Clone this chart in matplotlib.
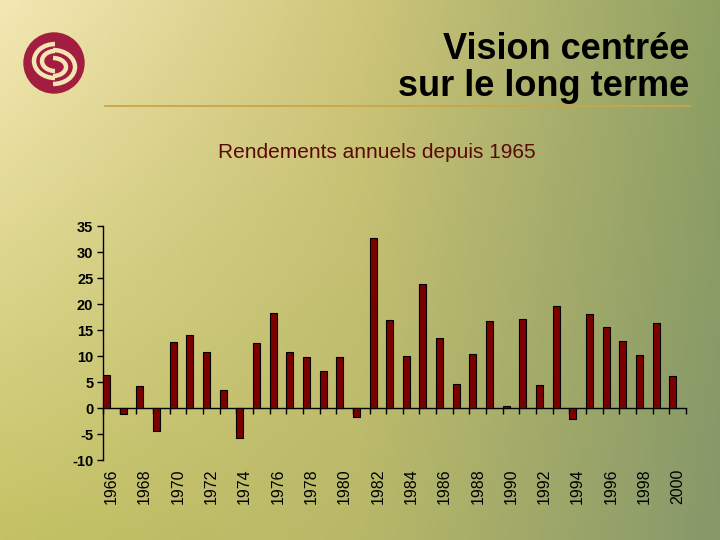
import numpy as np
import matplotlib
matplotlib.use('Agg')
import matplotlib.pyplot as plt
from matplotlib.patches import Ellipse, Arc
from matplotlib.colors import to_rgb

plt.rcParams['font.family'] = ['Liberation Sans', 'DejaVu Sans']

# annual returns (%)
years = list(range(1966, 2001))
returns = [6.4, -1.2, 4.3, -4.4, 12.7, 14.1, 10.8, 3.5, -5.7, 12.5,
           18.3, 10.8, 9.9, 7.2, 9.9, -1.8, 32.7, 17.0, 10.0, 23.9,
           13.5, 4.7, 10.4, 16.8, 0.45, 17.1, 4.5, 19.6, -2.2, 18.1,
           15.6, 12.9, 10.2, 16.4, 6.2]
label_years = [str(y) for y in years if y % 2 == 0]
y_ticks = [-10, -5, 0, 5, 10, 15, 20, 25, 30, 35]

title = "Vision centrée\nsur le long terme"
subtitle = "Rendements annuels depuis 1965"

W, H = 720, 540
fig = plt.figure(figsize=(7.2, 5.4), dpi=100)

# background gradient (cream top-left -> olive green right)
bg = fig.add_axes([0, 0, 1, 1])
bg.set_xlim(0, W)
bg.set_ylim(H, 0)
bg.axis('off')
top = [to_rgb(c) for c in ['#f4e8b4', '#cfc67a', '#8ea062']]
bot = [to_rgb(c) for c in ['#c4c264', '#b8b868', '#86986a']]
xs = np.linspace(0, 1, 200)
ys = np.linspace(0, 1, 150)
def row(stops):
    return np.stack([np.interp(xs, [0, 0.5, 1], [s[k] for s in stops]) for k in range(3)], axis=-1)
rt, rb = row(top), row(bot)
img = rt[None, :, :] * (1 - ys[:, None, None]) + rb[None, :, :] * ys[:, None, None]
bg.imshow(img, extent=[0, W, H, 0], aspect='auto', zorder=0)

# logo
logo_c = '#a21d40'
cream = '#f4e6b4'
bg.add_patch(Ellipse((54, 63), 60, 60, color=logo_c, zorder=2))
bg.add_patch(Arc((55, 61), 42, 34, theta1=90, theta2=270, color=cream, lw=3.2, zorder=3))
bg.add_patch(Arc((55, 61), 26, 20, theta1=90, theta2=270, color=cream, lw=3.2, zorder=3))
bg.add_patch(Arc((53, 67), 44, 34, theta1=-90, theta2=90, color=cream, lw=3.2, zorder=3))
bg.add_patch(Arc((53, 67), 26, 18, theta1=-90, theta2=90, color=cream, lw=3.2, zorder=3))

# title + rule
bg.text(689, 68, title, ha='right', va='center', fontsize=26, fontweight='bold',
        color='black', linespacing=1.05, zorder=3)
bg.plot([105, 690], [106, 106], color='#c9a64a', lw=1.3, zorder=2)
bg.text(377, 152, subtitle, ha='center', va='center', fontsize=15,
        color='#5a0808', zorder=3)

# chart
ax = fig.add_axes([103 / W, 1 - 460 / H, 583 / W, 234 / H])
ax.patch.set_alpha(0)
x = np.arange(len(years))
ax.bar(x, returns, width=0.42, align='edge', color='#7b0000',
       edgecolor='black', linewidth=0.8, zorder=3)
ax.set_xlim(0, len(years))
ax.set_ylim(-10, 35)
ax.set_yticks(y_ticks)
ax.set_yticklabels([str(v) for v in y_ticks], fontsize=10.5, fontweight='bold')
ax.tick_params(axis='y', direction='out', length=4, width=1, pad=3)

for s in ['top', 'right', 'bottom']:
    ax.spines[s].set_visible(False)
ax.spines['left'].set_linewidth(1)

ax.set_xticks([i + 0.5 for i, y in enumerate(years) if y % 2 == 0])
ax.set_xticklabels(label_years, rotation=90, fontsize=11.5)
ax.tick_params(axis='x', length=0, pad=6)

# zero line carrying the category tick marks
zero = ax.secondary_xaxis(10 / 45)
zero.set_xticks(np.arange(0, len(years) + 1))
zero.set_xticklabels([])
zero.tick_params(direction='out', length=4, width=1)
zero.spines['bottom'].set_linewidth(1)

fig.savefig('out.png', dpi=100)
